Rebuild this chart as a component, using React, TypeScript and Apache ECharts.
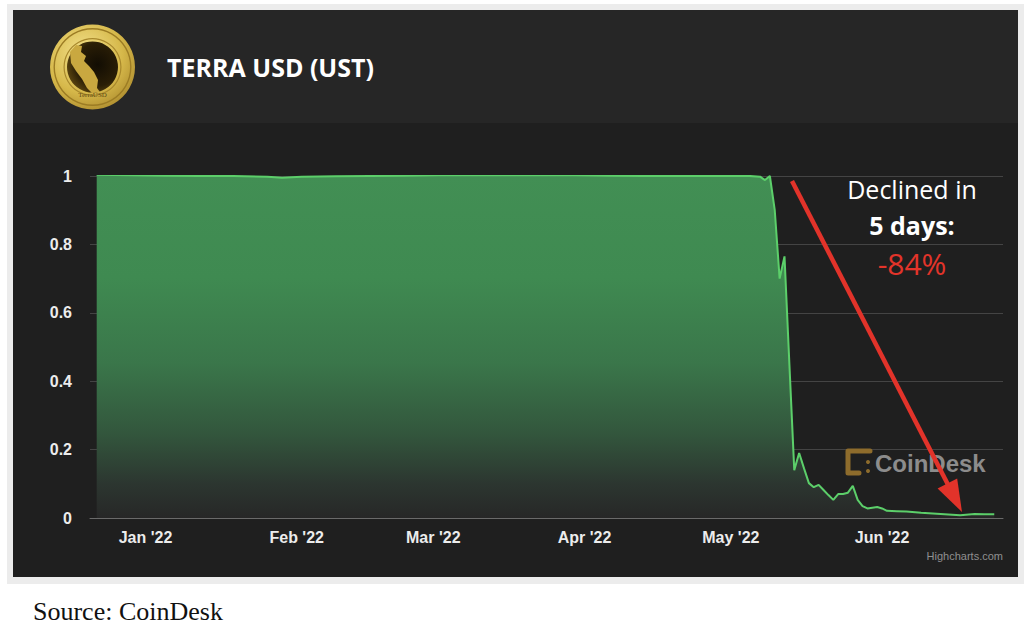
import React, { useEffect, useRef } from "react";
import * as echarts from "echarts";

const dates = [
  "2021-12-22", "2021-12-29", "2022-01-05", "2022-01-12", "2022-01-19", "2022-01-26",
  "2022-01-29", "2022-02-02", "2022-02-09", "2022-02-16", "2022-02-23", "2022-03-02",
  "2022-03-09", "2022-03-16", "2022-03-23", "2022-03-30", "2022-04-06", "2022-04-13",
  "2022-04-20", "2022-04-27", "2022-05-04", "2022-05-07", "2022-05-08", "2022-05-09",
  "2022-05-10", "2022-05-11", "2022-05-12", "2022-05-13", "2022-05-14", "2022-05-15",
  "2022-05-16", "2022-05-17", "2022-05-18", "2022-05-19", "2022-05-20", "2022-05-21",
  "2022-05-22", "2022-05-23", "2022-05-24", "2022-05-25", "2022-05-26", "2022-05-27",
  "2022-05-28", "2022-05-29", "2022-05-30", "2022-05-31", "2022-06-01", "2022-06-02",
  "2022-06-04", "2022-06-06", "2022-06-09", "2022-06-13", "2022-06-17", "2022-06-20",
  "2022-06-22", "2022-06-24",
];
const prices = [
  1.004, 1.002, 1.001, 1.0, 1.0, 0.998,
  0.995, 0.998, 0.999, 1.0, 1.001, 1.002,
  1.003, 1.002, 1.003, 1.002, 1.001, 1.0,
  1.001, 1.0, 1.001, 0.998, 0.988, 1.0,
  0.9, 0.7, 0.765, 0.45, 0.14, 0.19,
  0.145, 0.102, 0.09, 0.097, 0.082, 0.067,
  0.053, 0.07, 0.07, 0.074, 0.094, 0.053,
  0.035, 0.028, 0.03, 0.032, 0.028, 0.021,
  0.02, 0.019, 0.015, 0.012, 0.008, 0.012,
  0.011, 0.011,
];
const tickDates = ["2022-01-01", "2022-02-01", "2022-03-01", "2022-04-01", "2022-05-01", "2022-06-01"];
const tickLabels = ["Jan '22", "Feb '22", "Mar '22", "Apr '22", "May '22", "Jun '22"];
const yTicks = [0, 0.2, 0.4, 0.6, 0.8, 1];

const toTs = (s: string) => {
  const [y, m, d] = s.split("-").map(Number);
  return new Date(y, m - 1, d).getTime();
};

export default function App() {
  const ref = useRef<HTMLDivElement>(null);
  useEffect(() => {
    if (!ref.current) return;
    const chart = echarts.init(ref.current, undefined, { renderer: "svg" });
    const tickTs = tickDates.map(toTs);
    const data = dates.map((d, i) => [toTs(d), prices[i]]);

    // arrow geometry
    const ax0 = 792, ay0 = 181, ax1 = 962, ay1 = 512;
    const L = Math.hypot(ax1 - ax0, ay1 - ay0);
    const ux = (ax1 - ax0) / L, uy = (ay1 - ay0) / L;
    const nx = uy, ny = -ux;
    const hl = 32, hw = 11;
    const bx = ax1 - hl * ux, by = ay1 - hl * uy;

    const cx = 92.5, cy = 67;

    chart.setOption({
      animation: false,
      backgroundColor: "#ffffff",
      grid: { left: 90, right: 27, top: 176, bottom: 114, containLabel: false },
      xAxis: {
        type: "value",
        min: new Date(2021, 11, 20, 15).getTime(),
        max: new Date(2022, 5, 25, 19).getTime(),
        axisLine: { show: true, onZero: false, lineStyle: { color: "#6a6a6a", width: 1 } },
        axisTick: { show: false },
        splitLine: { show: false },
        axisLabel: {
          customValues: tickTs,
          formatter: (v: number) => {
            const i = tickTs.findIndex((t) => Math.abs(t - v) < 1000);
            return i >= 0 ? tickLabels[i] : "";
          },
          color: "#ececec",
          fontFamily: "Liberation Sans",
          fontWeight: "bold",
          fontSize: 16,
          margin: 11,
        },
      },
      yAxis: {
        type: "value",
        min: 0,
        max: 1,
        interval: 0.2,
        axisLine: { show: false },
        axisTick: { show: false },
        splitLine: { show: true, lineStyle: { color: "#444444", width: 1 } },
        axisLabel: {
          formatter: (v: number) => {
            const t = yTicks.find((y) => Math.abs(y - v) < 1e-6);
            return t === undefined ? "" : String(t);
          },
          color: "#ececec",
          fontFamily: "Liberation Sans",
          fontWeight: "bold",
          fontSize: 16,
          margin: 18,
        },
      },
      series: [
        {
          type: "line",
          data,
          showSymbol: false,
          symbol: "none",
          lineStyle: { color: "#5ccf6a", width: 2 },
          areaStyle: {
            color: new echarts.graphic.LinearGradient(0, 0, 0, 1, [
              { offset: 0, color: "#428f54" },
              { offset: 0.3, color: "#3f8a51" },
              { offset: 0.55, color: "#3a764a" },
              { offset: 0.75, color: "#33573d" },
              { offset: 0.9, color: "#2c3630" },
              { offset: 1, color: "#272727" },
            ]),
            opacity: 1,
          },
          z: 3,
        },
      ],
      graphic: [
        { type: "rect", z: -100, silent: true, shape: { x: 7, y: 4, width: 1017, height: 580 }, style: { fill: "#ececec" } },
        { type: "rect", z: -99, silent: true, shape: { x: 13, y: 10, width: 1005, height: 567 }, style: { fill: "#1f1f1f" } },
        { type: "rect", z: -98, silent: true, shape: { x: 13, y: 10, width: 1005, height: 113 }, style: { fill: "#262626" } },
        {
          type: "circle", z: 10, shape: { cx, cy, r: 42.5 },
          style: {
            fill: new echarts.graphic.RadialGradient(0.4, 0.35, 0.75, [
              { offset: 0, color: "#f4e38e" },
              { offset: 0.6, color: "#d6b84a" },
              { offset: 1, color: "#a8862a" },
            ]),
          },
        },
        { type: "ring", z: 11, shape: { cx, cy, r: 39, r0: 37.6 }, style: { fill: "#9c7c24" } },
        { type: "ring", z: 11, shape: { cx, cy, r: 29, r0: 27.8 }, style: { fill: "#a8882c" } },
        {
          type: "circle", z: 12, shape: { cx, cy, r: 25.5 },
          style: {
            fill: new echarts.graphic.RadialGradient(0.6, 0.45, 0.7, [
              { offset: 0, color: "#120d03" },
              { offset: 0.6, color: "#2a1e06" },
              { offset: 1, color: "#6e5414" },
            ]),
          },
        },
        {
          type: "polygon", z: 13,
          shape: {
            points: [
              [70, 52], [76, 45], [82, 46], [81, 52], [86, 56], [84, 61], [89, 66],
              [94, 72], [98, 80], [97, 88], [100, 92], [92, 93], [87, 88], [82, 79],
              [76, 71], [71, 63],
            ],
          },
          style: { fill: "#c9a840" },
        },
        {
          type: "text", z: 14, x: cx, y: 95,
          style: { text: "TerraUSD", fill: "#5e4a14", fontSize: 7, fontFamily: "Liberation Serif", align: "center", verticalAlign: "middle" },
        },
        {
          type: "text", z: 20, x: 167, y: 67,
          style: { text: "TERRA USD (UST)", fill: "#ffffff", fontSize: 25, fontWeight: "bold", fontFamily: "Open Sans", verticalAlign: "middle" },
        },
        {
          type: "polyline", z: 5,
          shape: { points: [[870, 451], [848, 451], [848, 473], [859, 473]] },
          style: { stroke: "#8e6c2c", lineWidth: 5, lineCap: "round", lineJoin: "round", fill: null },
        },
        { type: "circle", z: 5, shape: { cx: 868, cy: 462, r: 2 }, style: { fill: "#8e6c2c" } },
        { type: "circle", z: 5, shape: { cx: 868, cy: 471, r: 2 }, style: { fill: "#8e6c2c" } },
        {
          type: "text", z: 5, x: 875, y: 463,
          style: { text: "CoinDesk", fill: "#8c8c8c", fontSize: 24, fontWeight: "bold", fontFamily: "Liberation Sans", verticalAlign: "middle" },
        },
        {
          type: "text", z: 5, x: 1003, y: 556,
          style: { text: "Highcharts.com", fill: "#909090", fontSize: 11, fontFamily: "Liberation Sans", align: "right", verticalAlign: "middle" },
        },
        {
          type: "text", z: 20, x: 912, y: 189,
          style: { text: "Declined in", fill: "#ffffff", fontSize: 25, fontFamily: "Open Sans", align: "center", verticalAlign: "middle" },
        },
        {
          type: "text", z: 20, x: 912, y: 225,
          style: { text: "5 days:", fill: "#ffffff", fontSize: 25, fontWeight: "bold", fontFamily: "Open Sans", align: "center", verticalAlign: "middle" },
        },
        {
          type: "text", z: 20, x: 912, y: 263,
          style: { text: "-84%", fill: "#e3342a", fontSize: 30, fontFamily: "Open Sans", align: "center", verticalAlign: "middle" },
        },
        {
          type: "line", z: 30,
          shape: { x1: ax0, y1: ay0, x2: bx + 4 * ux, y2: by + 4 * uy },
          style: { stroke: "#e2332a", lineWidth: 4.5, lineCap: "butt" },
        },
        {
          type: "polygon", z: 30,
          shape: { points: [[ax1, ay1], [bx + hw * nx, by + hw * ny], [bx - hw * nx, by - hw * ny]] },
          style: { fill: "#e2332a" },
        },
        {
          type: "text", z: 20, x: 33, y: 611,
          style: { text: "Source: CoinDesk", fill: "#111111", fontSize: 26, fontFamily: "Liberation Serif", verticalAlign: "middle" },
        },
      ],
    });
    return () => chart.dispose();
  }, []);
  return <div ref={ref} style={{ position: "fixed", left: 0, top: 0, width: 1030, height: 632 }} />;
}
